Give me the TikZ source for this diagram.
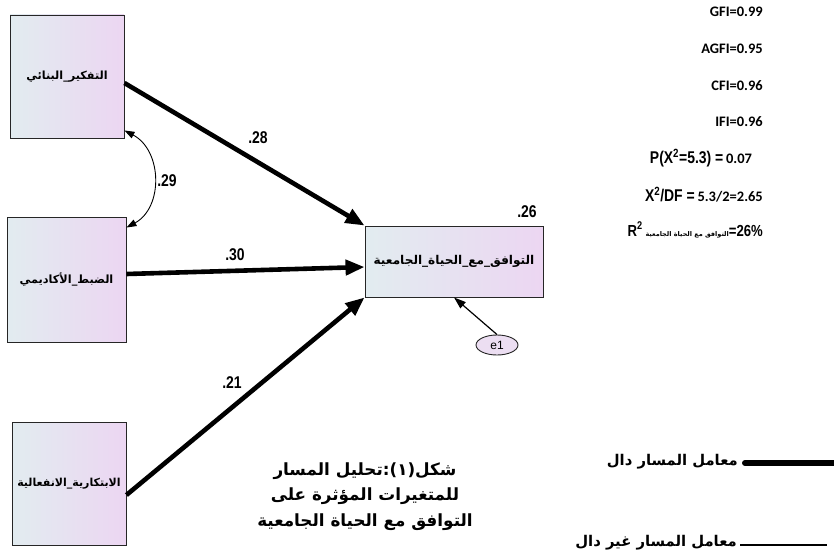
\documentclass[tikz,border=0pt]{standalone}
\usepackage{fontspec}
\usetikzlibrary{arrows.meta,shapes.geometric}
\TeXXeTstate=1
\setmainfont{Liberation Sans}
\newfontfamily\arfont[Script=Arabic]{DejaVu Sans}
\newfontfamily\numfont[FakeStretch=0.82]{Liberation Sans}
\newfontfamily\calfont{Carlito}
\definecolor{boxL}{RGB}{226,236,240}
\definecolor{boxR}{RGB}{236,214,242}
\definecolor{ellfill}{RGB}{236,222,242}
\newcommand\arsize[1]{\arfont\bfseries\fontsize{#1}{#1}\selectfont}
\tikzset{
  varbox/.style={draw=black!85, line width=0.9pt, left color=boxL, right color=boxR,
    inner sep=0pt, align=center},
  path/.style={line width=4.6pt, -{Triangle[length=19pt,width=15pt]}},
  thinpath/.style={line width=1.2pt, -{Triangle[length=12pt,width=8pt]}},
  covpath/.style={line width=0.9pt, {Triangle[length=10pt,width=7pt]}-{Triangle[length=10pt,width=7pt]}},
  coef/.style={font=\numfont\bfseries\fontsize{17}{20}\selectfont, inner sep=0pt},
  stat/.style={font=\calfont\bfseries\fontsize{14.5}{17}\selectfont, inner sep=0pt},
  arcap/.style={font=\arsize{16.8}, inner sep=0pt},
  legtext/.style={font=\arsize{14.8}, inner sep=0pt, anchor=east}
}
\begin{document}
\begin{tikzpicture}[x=1pt, y=-1pt]
\useasboundingbox (0,0) rectangle (834,556);

% observed variables
\node[varbox, minimum width=114pt, minimum height=123pt, font=\arsize{11.2}] (b1) at (67,76.5)
  {\beginR التفكير\_البنائي\endR};
\node[varbox, minimum width=119pt, minimum height=125pt, font=\arsize{11.3}] (b2) at (66.5,279.5)
  {\beginR الضبط\_الأكاديمي\endR};
\node[varbox, minimum width=114pt, minimum height=123pt, font=\arsize{11}] (b3) at (69,483.5)
  {\beginR الابتكارية\_الانفعالية\endR};
\node[varbox, minimum width=178pt, minimum height=71pt, font=\arsize{12.1}] (t) at (454,261.5)
  {\beginR التوافق\_مع\_الحياة\_الجامعية\endR};

% error term
\node[ellipse, draw=black!85, line width=0.9pt, fill=ellfill, minimum width=42pt, minimum height=20pt,
  inner sep=0pt, font=\fontsize{12}{14}\selectfont] (e1) at (497,345) {e1};

% paths
\draw[path] ([yshift=-6.5pt]b1.east) -- (t.north west);
\draw[path] ([yshift=5.5pt]b2.east) -- ([yshift=-5.5pt]t.west);
\draw[path] ([yshift=-11.5pt]b3.east) -- (t.south west);
\draw[thinpath] (e1.north) -- (t.south);
\draw[covpath] ([yshift=8pt]b1.south east) .. controls +(38,20) and +(37,-20) .. ([yshift=-11pt]b2.north east);

% coefficients
\node[coef] (c28) at (258,138) {.28};
\node[coef] (c29) at (167,181) {.29};
\node[coef] (c30) at (235,255) {.30};
\node[coef] (c21) at (232,383) {.21};
\node[coef] (c26) at (527,212) {.26};

% fit indices
\node[stat, anchor=east] (gfi) at (763,12) {GFI=0.99};
\node[stat, anchor=east] (agfi) at (763,49) {AGFI=0.95};
\node[stat, anchor=east] (cfi) at (763,86) {CFI=0.96};
\node[stat, anchor=east] (ifi) at (763,122) {IFI=0.96};
\node[inner sep=0pt] (pval) at (701,158)
  {{\numfont\bfseries\fontsize{17}{20}\selectfont P(X\textsuperscript{2}=5.3) =} {\calfont\bfseries\fontsize{14.5}{17}\selectfont 0.07}};
\node[inner sep=0pt, anchor=east] (chidf) at (763,195)
  {{\numfont\bfseries\fontsize{17}{20}\selectfont X\textsuperscript{2}/DF =} {\calfont\bfseries\fontsize{14.5}{17}\selectfont 5.3/2=2.65}};
\node[inner sep=0pt, anchor=east] (rsq) at (763,230)
  {{\numfont\bfseries\fontsize{16}{19}\selectfont R\textsuperscript{2}} {\arsize{6.5}\beginR التوافق مع الحياة الجامعية\endR}{\numfont\bfseries\fontsize{16}{19}\selectfont =26\%}};

% caption
\node[arcap] (cap1) at (365,471) {\beginR شكل(١):تحليل المسار\endR};
\node[arcap] (cap2) at (365,496) {\beginR للمتغيرات المؤثرة على\endR};
\node[arcap] (cap3) at (365,522) {\beginR التوافق مع الحياة الجامعية\endR};

% legend
\coordinate (l1a) at (745,463);
\coordinate (l1b) at (836,463);
\coordinate (l2a) at (740,545);
\coordinate (l2b) at (827,545);
\draw[line width=6pt, line cap=round] (l1a) -- (l1b);
\draw[line width=1.5pt] (l2a) -- (l2b);
\node[legtext] (lt1) at (738,462) {\beginR معامل المسار دال\endR};
\node[legtext] (lt2) at (737,543) {\beginR معامل المسار غير دال\endR};
\end{tikzpicture}
\end{document}
